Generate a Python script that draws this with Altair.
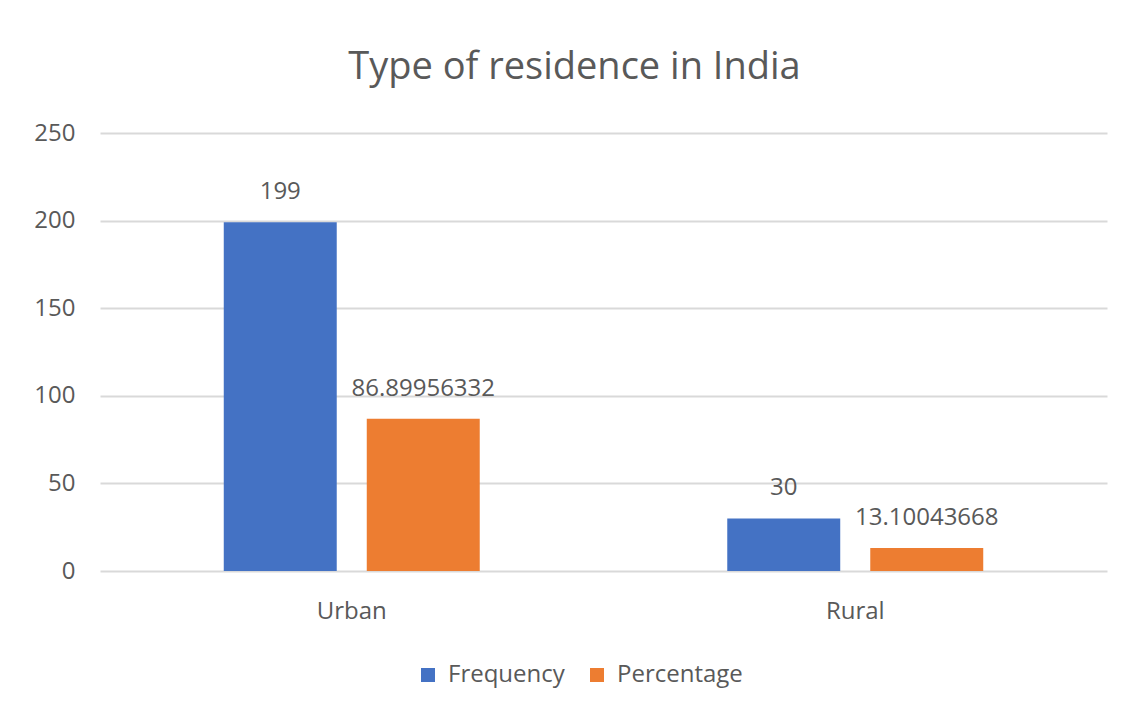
import altair as alt
import pandas as pd

# ---- data ----
categories = ["Urban", "Rural"]
series = ["Frequency", "Percentage"]
frequency = [199, 30]
percentage = [86.89956332, 13.10043668]
colors = ["#4472C4", "#ED7D31"]
y_ticks = [0, 50, 100, 150, 200, 250]

rows = []
for i, c in enumerate(categories):
    rows.append({"Residence": c, "Series": series[0], "Value": frequency[i], "Label": str(frequency[i])})
    rows.append({"Residence": c, "Series": series[1], "Value": percentage[i], "Label": str(percentage[i])})
df = pd.DataFrame(rows)

FONT = "Open Sans"
TXT = "#595959"
GRID = "#D9D9D9"

x = alt.X(
    "Residence:N",
    sort=categories,
    title=None,
    scale=alt.Scale(paddingInner=0.4916, paddingOuter=0.2458),
    axis=alt.Axis(labelAngle=0, labelFontSize=24, labelColor=TXT, labelFont=FONT,
                  ticks=False, domain=False, labelPadding=28, grid=False),
)
xoff = alt.XOffset("Series:N", sort=series, scale=alt.Scale(paddingInner=0.21, paddingOuter=0))
y = alt.Y(
    "Value:Q",
    title=None,
    scale=alt.Scale(domain=[0, 250], nice=False),
    axis=alt.Axis(values=y_ticks, labelFontSize=24, labelColor=TXT, labelFont=FONT,
                  ticks=False, domain=False, labelPadding=25, grid=True,
                  gridColor=GRID, gridWidth=2),
)
color = alt.Color(
    "Series:N",
    sort=series,
    scale=alt.Scale(domain=series, range=colors),
    legend=alt.Legend(orient="none", legendX=316, legendY=530, direction="horizontal",
                      title=None, symbolType="square", symbolSize=196, symbolStrokeWidth=0,
                      labelFontSize=24, labelFont=FONT, labelColor=TXT, labelOffset=8,
                      columnPadding=20, padding=0),
)

bars = alt.Chart(df).mark_bar().encode(x=x, xOffset=xoff, y=y, color=color)
labels = alt.Chart(df).mark_text(dy=-23, baseline="alphabetic", fontSize=24, font=FONT, color=TXT).encode(
    x=x, xOffset=xoff, y=y, text="Label:N"
)

chart = (
    alt.layer(bars, labels)
    .properties(
        width=1007,
        height=438,
        autosize=alt.AutoSizeParams(type="none"),
        padding={"left": 92, "top": 125, "right": 20, "bottom": 130},
        view=alt.ViewBackground(strokeOpacity=0, strokeWidth=0),
        title=alt.Title("Type of residence in India", fontSize=38, font=FONT, color=TXT,
                        fontWeight="normal", anchor="middle", dx=-29, offset=4,
                        baseline="alphabetic"),
    )
    .configure_view(strokeOpacity=0, strokeWidth=0)
    .configure(background="white")
)

chart.save("out.html", embed_options={"renderer": "svg", "actions": False})
